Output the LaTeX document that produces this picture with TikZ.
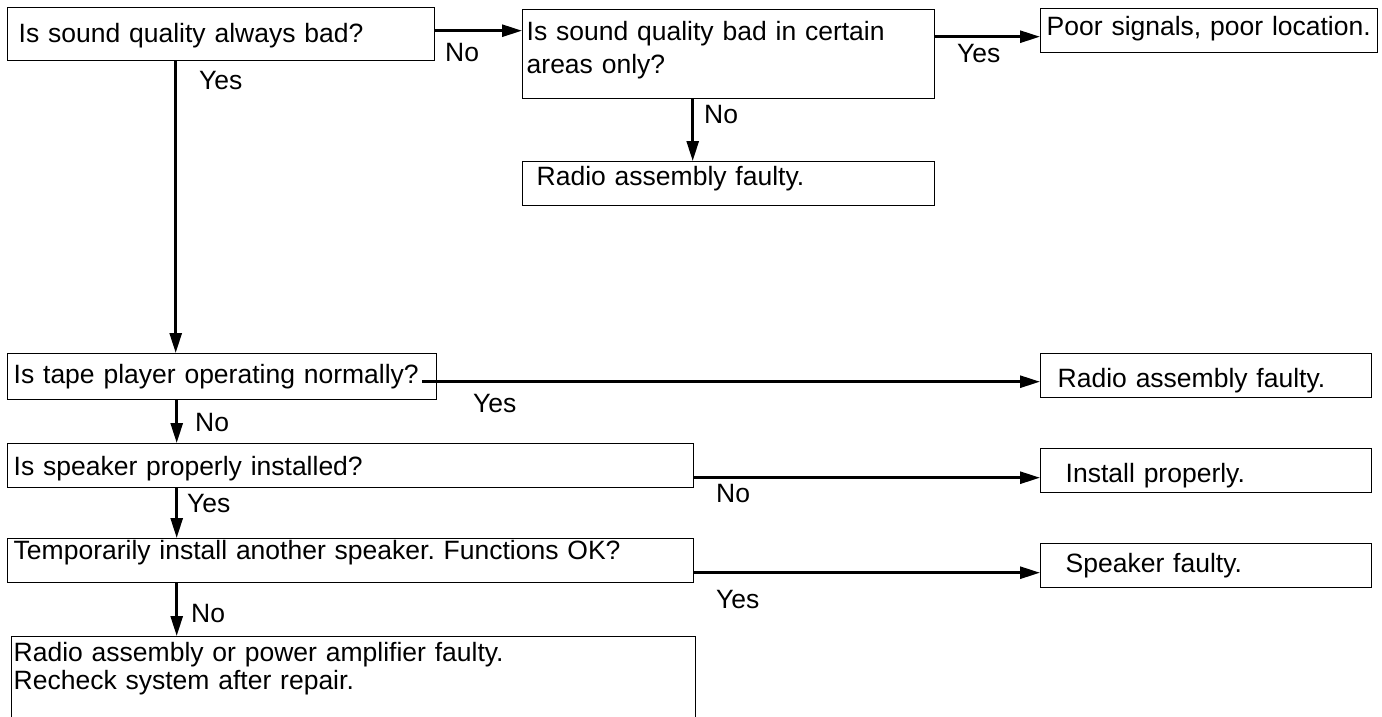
\documentclass[tikz,border=0pt]{standalone}
\usepackage{fontspec}
\setmainfont{Liberation Sans}
\usetikzlibrary{arrows.meta}
\frenchspacing

\begin{document}
\begin{tikzpicture}[x=1pt, y=-1pt,
    qbox/.style={draw, line width=1.4pt, anchor=north west, align=left, inner ysep=0pt,
        font=\fontsize{26.5}{31}\selectfont},
    arr/.style={line width=2.7pt, -{Triangle[length=20pt,width=12pt]}},
    lbl/.style={anchor=base west, inner sep=0pt, font=\fontsize{26.5}{31}\selectfont}]
    \useasboundingbox (0,0) rectangle (1382,717);
    \clip (0,0) rectangle (1382,717);

    % Top row
    \node[qbox, text width=405pt, inner xsep=11pt, text height=35pt, text depth=18pt] (always) at (7,7) {Is sound quality always bad?};
    \node[qbox, text width=404pt, inner xsep=4pt, text height=31pt, text depth=58pt,
        font=\fontsize{26.5}{33}\selectfont] (certain) at (522,9) {Is sound quality bad in certain\\areas only?};
    \node[qbox, text width=325pt, inner xsep=6pt, text height=27pt, text depth=17pt] (poor) at (1040,8) {Poor signals, poor location.};
    \node[qbox, text width=384pt, inner xsep=14pt, text height=24pt, text depth=20pt] (radio1) at (522,161) {Radio assembly faulty.};

    % Left column
    \node[qbox, text width=417pt, inner xsep=6pt, text height=30pt, text depth=16pt] (tape) at (7,353) {Is tape player operating normally?};
    \node[qbox, text width=674pt, inner xsep=6pt, text height=32pt, text depth=12pt] (installed) at (7,443) {Is speaker properly installed?};
    \node[qbox, text width=674pt, inner xsep=6pt, text height=21pt, text depth=23pt] (temp) at (7,538) {Temporarily install another speaker. Functions OK?};
    \node[qbox, text width=680pt, inner xsep=2pt, text height=25pt, text depth=100pt,
        font=\fontsize{26.5}{28}\selectfont] (amp) at (11,636) {Radio assembly or power amplifier faulty.\\Recheck system after repair.};

    % Right column
    \node[qbox, text width=297pt, inner xsep=17pt, text height=34pt, text depth=10pt] (radio2) at (1040,353) {Radio assembly faulty.};
    \node[qbox, text width=281pt, inner xsep=25pt, text height=34pt, text depth=10pt] (install) at (1040,448) {Install properly.};
    \node[qbox, text width=281pt, inner xsep=25pt, text height=29pt, text depth=15pt] (speaker) at (1040,543) {Speaker faulty.};

    % Arrows
    \draw[arr] ([yshift=3.5pt]always.east) -- ([yshift=3.5pt]always.east -| certain.west);
    \draw[arr] ([yshift=17.5pt]certain.east) -- ([yshift=17.5pt]certain.east -| poor.west);
    \draw[arr] ([xshift=-36pt]certain.south) -- ([xshift=-36pt]certain.south |- radio1.north);
    \draw[arr] ([xshift=-45.5pt]always.south) -- ([xshift=-45.5pt]always.south |- tape.north);
    \draw[arr] ([xshift=-15pt,yshift=-5pt]tape.east) -- ([yshift=-5pt]tape.east -| radio2.west);
    \draw[arr] ([xshift=-45.5pt]tape.south) -- ([xshift=-45.5pt]tape.south |- installed.north);
    \draw[arr] ([yshift=-12pt]installed.east) -- ([yshift=-12pt]installed.east -| install.west);
    \draw[arr] ([xshift=-174pt]installed.south) -- ([xshift=-174pt]installed.south |- temp.north);
    \draw[arr] ([yshift=-12pt]temp.east) -- ([yshift=-12pt]temp.east -| speaker.west);
    \draw[arr] ([xshift=-174pt]temp.south) -- ([xshift=-174pt]temp.south |- amp.north);

    % Answers
    \node[lbl] (no1) at (445,62) {No};
    \node[lbl] (yes1) at (199,89) {Yes};
    \node[lbl] (yes2) at (957,63) {Yes};
    \node[lbl] (no2) at (704,123) {No};
    \node[lbl] (yes3) at (473,412) {Yes};
    \node[lbl] (no3) at (195,431) {No};
    \node[lbl] (no4) at (716,502) {No};
    \node[lbl] (yes4) at (187,512) {Yes};
    \node[lbl] (yes5) at (716,608) {Yes};
    \node[lbl] (no5) at (191,622) {No};
\end{tikzpicture}
\end{document}
